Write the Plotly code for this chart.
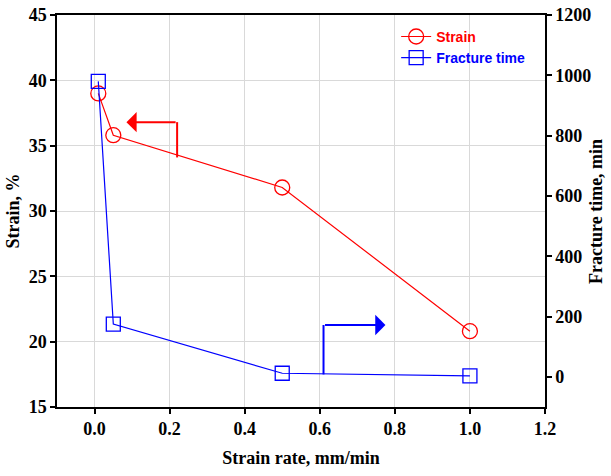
import plotly.graph_objects as go

strain_rate = [0.01, 0.05, 0.5, 1.0]
strain = [39.0, 35.8, 31.8, 20.8]
fracture_time = [980, 175, 12, 3]

x_ticks = [0.0, 0.2, 0.4, 0.6, 0.8, 1.0, 1.2]
y1_ticks = [15, 20, 25, 30, 35, 40, 45]
y2_ticks = [0, 200, 400, 600, 800, 1000, 1200]

# arrows: [x_start, y_start, x_corner, y_corner, x_tip]
red_arrow = [0.22, 34.1, 0.22, 36.8, 0.085]
blue_arrow = [0.61, 8, 0.61, 172, 0.775]

serif = "Liberation Serif"
sans = "Liberation Sans"

fig = go.Figure()
fig.add_trace(go.Scatter(
    x=strain_rate, y=strain, mode="lines+markers",
    name="<b><span style='color:#ff0000'>Strain</span></b>",
    line=dict(color="#ff0000", width=1.2),
    marker=dict(symbol="circle-open", size=15, color="#ff0000", line=dict(width=1.3)),
    yaxis="y"))
fig.add_trace(go.Scatter(
    x=strain_rate, y=fracture_time, mode="lines+markers",
    name="<b><span style='color:#0000ff'>Fracture time</span></b>",
    line=dict(color="#0000ff", width=1.2),
    marker=dict(symbol="square-open", size=14, color="#0000ff", line=dict(width=1.3)),
    yaxis="y2"))

# red arrow
fig.add_shape(type="line", xref="x", yref="y",
              x0=red_arrow[0], y0=red_arrow[1], x1=red_arrow[2], y1=red_arrow[3],
              line=dict(color="#ff0000", width=2))
fig.add_annotation(xref="x", yref="y", axref="x", ayref="y",
                   x=red_arrow[4], y=red_arrow[3], ax=red_arrow[2], ay=red_arrow[3],
                   text="", showarrow=True, arrowhead=1, arrowsize=1.7,
                   arrowwidth=2, arrowcolor="#ff0000", standoff=0, startstandoff=0)
# blue arrow
fig.add_shape(type="line", xref="x", yref="y2",
              x0=blue_arrow[0], y0=blue_arrow[1], x1=blue_arrow[2], y1=blue_arrow[3],
              line=dict(color="#0000ff", width=2))
fig.add_annotation(xref="x", yref="y2", axref="x", ayref="y2",
                   x=blue_arrow[4], y=blue_arrow[3], ax=blue_arrow[2], ay=blue_arrow[3],
                   text="", showarrow=True, arrowhead=1, arrowsize=1.7,
                   arrowwidth=2, arrowcolor="#0000ff", standoff=0, startstandoff=0)

tickfont = dict(family=serif, size=18, color="black", weight="bold")
titlefont = dict(family=serif, size=18, color="black", weight="bold")

# right axis title
fig.add_annotation(xref="paper", yref="paper", x=1.1045, y=0.5,
                   text="Fracture time, min", textangle=-90, showarrow=False,
                   font=titlefont, xanchor="center", yanchor="middle")

fig.update_layout(
    width=611, height=476,
    margin=dict(l=57, r=66, t=15, b=69),
    paper_bgcolor="white", plot_bgcolor="white",
    showlegend=True,
    legend=dict(x=0.695, y=0.985, xanchor="left", yanchor="top",
                bgcolor="rgba(0,0,0,0)", font=dict(family=sans, size=14),
                itemwidth=30, tracegroupgap=0),
    xaxis=dict(range=[-0.1, 1.2], tickvals=x_ticks,
               ticktext=[f"{v:.1f}" for v in x_ticks],
               showgrid=True, gridcolor="#d9d9d9", gridwidth=1,
               showline=True, linecolor="black", linewidth=1.5, mirror=True,
               ticks="outside", ticklen=5, tickwidth=1.5, tickcolor="black",
               tickfont=tickfont, zeroline=False, automargin=False,
               title=dict(text="Strain rate, mm/min", font=titlefont, standoff=13)),
    yaxis=dict(range=[15, 45], tickvals=y1_ticks,
               showgrid=True, gridcolor="#d9d9d9", gridwidth=1,
               showline=True, linecolor="black", linewidth=1.5,
               ticks="outside", ticklen=5, tickwidth=1.5, tickcolor="black",
               tickfont=tickfont, zeroline=False, automargin=False,
               title=dict(text="Strain, %", font=titlefont, standoff=4)),
    yaxis2=dict(range=[-100, 1200], tickvals=y2_ticks, overlaying="y", side="right",
                showgrid=False,
                showline=True, linecolor="black", linewidth=1.5,
                ticks="outside", ticklen=5, tickwidth=1.5, tickcolor="black",
                tickfont=tickfont, zeroline=False, automargin=False),
)

fig.write_html("out.html")
